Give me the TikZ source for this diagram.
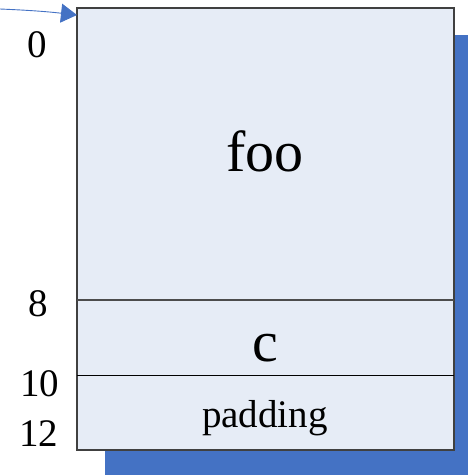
\documentclass[tikz,border=0pt]{standalone}
\usepackage{fontspec}
\setmainfont{Liberation Serif}
\usepackage{xcolor}
\usepackage{tikz}
\usetikzlibrary{arrows.meta}
\definecolor{fieldfill}{RGB}{230,236,246}
\definecolor{shadowblue}{RGB}{68,114,196}

\tikzset{
  offset/.style={font=\fontsize{39}{44}\selectfont, anchor=base, inner sep=0pt},
  fieldname/.style={font=\fontsize{58}{64}\selectfont, anchor=base, inner sep=0pt},
}

\begin{document}
\begin{tikzpicture}[x=1pt,y=1pt]
  \useasboundingbox (0,0) rectangle (468,475);

  % shadow behind the struct
  \fill[shadowblue] (105,0) rectangle (468,440);

  % struct body: foo, c, padding
  \draw[fill=fieldfill, draw=black!75, line width=1.3pt] (77,25) rectangle (454,467);
  \draw[black!70, line width=1.2pt] (77,175) -- (454,175);
  \draw[black, line width=0.9pt] (77,100) -- (454,100);

  \node[fieldname] (foo) at (265,303) {foo};
  \node[fieldname] (c) at (265,113) {c};
  \node[offset, font=\fontsize{39}{44}\selectfont] (pad) at (265,48) {padding};

  % byte offsets
  \node[offset] (off0) at (37,417.5) {0};
  \node[offset] (off8) at (38,158) {8};
  \node[offset] (off10) at (39.5,78) {10};
  \node[offset] (off12) at (39,28) {12};

  % pointer to the start
  \coordinate (ptr) at (0,466);
  \coordinate (start) at (77,460);
  \draw[shadowblue, line width=0.9pt, -{Triangle[length=16pt,width=19pt]}]
    (ptr) to[bend left=2] (start);
\end{tikzpicture}
\end{document}
